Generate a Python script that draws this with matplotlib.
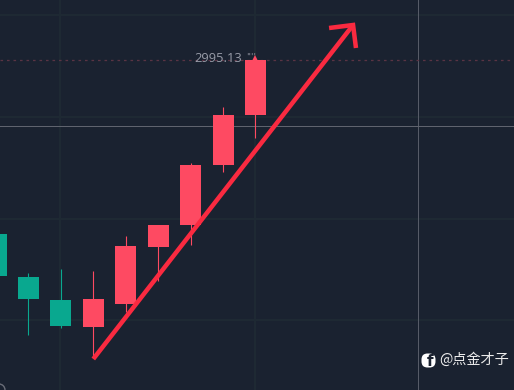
import matplotlib
matplotlib.use('Agg')
import matplotlib.pyplot as plt
from matplotlib.patches import FancyBboxPatch, Arc

plt.rcParams['font.family'] = ['Noto Sans CJK SC', 'DejaVu Sans']

# K线数据，价格从图上估读
opens = [2908.13, 2886.63, 2875.13, 2861.63, 2873.13, 2901.63, 2912.63, 2942.63, 2967.63]
closes = [2887.13, 2875.63, 2862.13, 2875.63, 2902.13, 2912.63, 2942.63, 2967.63, 2995.13]
highs = [2908.13, 2888.63, 2890.63, 2889.63, 2907.13, 2912.63, 2943.63, 2971.63, 2996.63]
lows = [2887.13, 2857.63, 2861.13, 2846.13, 2869.13, 2884.63, 2902.63, 2939.13, 2956.13]
colors_up = '#fe4a62'
colors_down = '#09a88f'

last_price = 2995.13
h_grid = [3017.63, 2966.63, 2915.63, 2865.13]
v_grid = [1.98, 8]
cross_x = 13.0
cross_y = 2962.13
arrow_start = (3, 2845.63)
arrow_end = (11.01, 3012.63)
arrow_left = (10.27, 3011.13)
arrow_right = (11.1, 3001.13)

bg = '#1a2230'
px = 0.72  # 1像素对应的线宽

fig = plt.figure(figsize=(5.14, 3.9), dpi=100, facecolor=bg)
ax = fig.add_axes([0, 0, 1, 1], facecolor=bg)
ax.set_xlim(4 / 32.43, 518 / 32.43)
ax.set_ylim(2830.13, 3025.13)
ax.axis('off')

# 网格
for y in h_grid:
    ax.axhline(y, color='#1e2933', lw=2 * px, zorder=1)
for x in v_grid:
    ax.axvline(x, color='#1e2933', lw=2 * px, zorder=1)

# 十字光标和最新价虚线
ax.axvline(cross_x, color='#565b67', lw=1 * px, zorder=2)
ax.axhline(cross_y, color='#5f636e', lw=1 * px, zorder=2)
ax.axhline(last_price, color='#5a3444', lw=1.3 * px, ls=(0, (2, 3)), zorder=2)

# 蜡烛
for i in range(len(opens)):
    c = colors_up if closes[i] >= opens[i] else colors_down
    ax.vlines(i, lows[i], highs[i], color=c, lw=1.1 * px, zorder=3)
    ax.bar(i, abs(closes[i] - opens[i]), bottom=min(opens[i], closes[i]),
           width=21 / 32.43, color=c, linewidth=0, zorder=4)

# 箭头
ax.plot([arrow_start[0], arrow_end[0]], [arrow_start[1], arrow_end[1]],
        color='#fa2a40', lw=4.5 * px, solid_capstyle='butt', zorder=5)
ax.plot([arrow_left[0], arrow_end[0], arrow_right[0]],
        [arrow_left[1], arrow_end[1], arrow_right[1]],
        color='#fa2a40', lw=4.5 * px, solid_capstyle='butt', solid_joinstyle='miter', zorder=5)

# 价格标签
ax.text(7.6, last_price + 1.0, '2995.13', color='#989ca8', fontsize=9.3,
        ha='right', va='center', family=['Open Sans', 'DejaVu Sans'], zorder=6)
ax.text(7.88, last_price + 1.4, "''''", color='#8a8d98', fontsize=6.5, ha='center', va='center',
        family=['DejaVu Sans'], zorder=6)
ax.plot([8], [last_price + 0.8], marker='^', ms=4, color='#fe4a62', mew=0, zorder=4)

# 水印：用像素坐标放在图上
ax2 = fig.add_axes([0, 0, 1, 1], facecolor='none')
ax2.set_xlim(0, 514)
ax2.set_ylim(390, 0)
ax2.axis('off')
ax2.add_patch(FancyBboxPatch((421.5, 353.5), 14, 14, boxstyle='round,pad=0,rounding_size=6',
                             fc='white', ec='none'))
ax2.text(430, 362, 'f', color=bg, fontsize=11, fontweight='bold', ha='center', va='center',
         family=['DejaVu Sans'])
ax2.text(439, 360, '@点金才子', color='#ececec', fontsize=10.2, fontweight='medium', ha='left', va='center')
ax2.add_patch(Arc((-1, 390), 12, 12, theta1=270, theta2=360, color='#6a6d78', lw=1))

fig.savefig('out.png', dpi=100, facecolor=bg)
